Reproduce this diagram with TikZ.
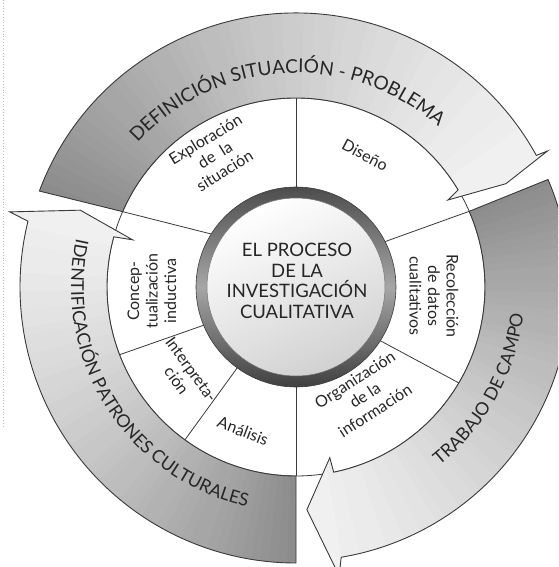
\documentclass[tikz,border=0pt]{standalone}
\usepackage{fontspec}
\setmainfont{Lato}
\usetikzlibrary{decorations.text}
\definecolor{ink}{HTML}{262626}
\definecolor{edge}{HTML}{3A3A3A}

\def\arrowone{(159.5:274) arc[start angle=159.5,end angle=28.7,radius=274]
  -- (28.4:286) -- (26.2:234) -- (29.8:175) -- (30.9:189)
  arc[start angle=30.9,end angle=156.5,radius=189] -- cycle}
\def\arrowtwo{(23.1:274) arc[start angle=23.1,end angle=-80.5,radius=274]
  -- (-81.5:292) -- (-87.2:223) -- (-78.8:174) -- (-78.5:189)
  arc[start angle=-78.5,end angle=23.6,radius=189] -- cycle}
\def\arrowthree{(270:276) arc[start angle=270,end angle=166.2,radius=276]
  -- (165.3:296) -- (160.4:229) -- (163.9:170) -- (164.6:189)
  arc[start angle=164.6,end angle=270,radius=189] -- cycle}

\newcommand\bandfill[2]{%
  \foreach \k in {0,...,59}{%
    \pgfmathsetmacro\ta{#1+(#2-#1)*\k/60}%
    \pgfmathsetmacro\tb{#1+(#2-#1)*(\k+1.5)/60}%
    \pgfmathtruncatemacro\sh{6+40*(1-\k/59)^1.4}%
    \fill[black!\sh] (0,0) -- (\ta:330) -- (\tb:330) -- cycle;}}

\begin{document}
\begin{tikzpicture}[x=1pt,y=1pt,
 bandline/.style={draw=edge,line width=.9pt,line join=miter},
 segline/.style={draw=edge,line width=.8pt},
 bandtext/.style 2 args={decorate,decoration={text along path,text align=center,
   text color=ink,text={|\fontsize{#1}{24}\selectfont|#2}}},
 seglabel/.style={font=\fontsize{16}{18.5}\selectfont,align=center,text=ink,inner sep=0pt},
 centertext/.style={font=\fontsize{18.5}{20.5}\selectfont,align=center,text=ink,inner sep=0pt}]
 \useasboundingbox (-296,-280) rectangle (262,287);
 \clip (-296,-280) rectangle (262,287);
 \draw[black!25,dotted,line width=.8pt] (-293,287) -- (-293,-140);

 \draw[segline,fill=white] (0,0) circle[radius=189];

 \begin{scope}
  \clip \arrowone;
  \bandfill{162}{24}
 \end{scope}
 \draw[bandline] \arrowone;
 \begin{scope}
  \clip \arrowtwo;
  \bandfill{26}{-90}
 \end{scope}
 \draw[bandline] \arrowtwo;
 \begin{scope}
  \clip \arrowthree;
  \bandfill{272}{158}
 \end{scope}
 \draw[bandline] \arrowthree;

 \draw[segline] (90:100) -- (90:189);
 \draw[segline] (27:100) -- (23.6:189);
 \draw[segline] (-32.5:100) -- (-30.5:189);
 \draw[segline] (-90:100) -- (-90:189);
 \draw[segline] (-126:100) -- (-126:189);
 \draw[segline] (-157.5:100) -- (-159:189);
 \draw[segline] (148:100) -- (156.5:189);

 \shade[draw=edge,line width=.6pt,top color=black!70,bottom color=black!75,middle color=black!35]
  (0,0) circle[radius=100];
 \shade[draw=black!55,line width=.5pt,top color=white,bottom color=black!18,shading angle=25]
  (0,0) circle[radius=89];

 \path[bandtext={19}{DEFINICIÓN SITUACIÓN - PROBLEMA}]
  (150:214) arc[start angle=150,end angle=36,radius=214];
 \path[bandtext={17.8}{TRABAJO DE CAMPO}]
  (-75:229) arc[start angle=-75,end angle=17,radius=229];
 \path[bandtext={17.8}{IDENTIFICACIÓN PATRONES CULTURALES}]
  (158:225) arc[start angle=158,end angle=267,radius=225];

 \node[centertext] (centro) at (1,6) {EL PROCESO\\DE LA\\INVESTIGACIÓN\\CUALITATIVA};
 \node[seglabel,rotate=31.5] (explo) at (-81,132) {Exploración\\de\enspace la\\situación};
 \node[seglabel,rotate=-28] (diseno) at (69,132) {Diseño};
 \node[seglabel,rotate=-90] (recol) at (138,-9) {Recolección\\de datos\\cualitativos};
 \node[seglabel,rotate=33] (organ) at (69,-108) {Organización\\de la\\información};
 \node[seglabel,rotate=-21] (analisis) at (-53,-144) {Análisis};
 \node[seglabel,rotate=-54] (interp) at (-112,-88) {Interpreta-\\ción};
 \node[seglabel,rotate=90] (concep) at (-144,-4) {Concep-\\tualización\\inductiva};
\end{tikzpicture}
\end{document}
